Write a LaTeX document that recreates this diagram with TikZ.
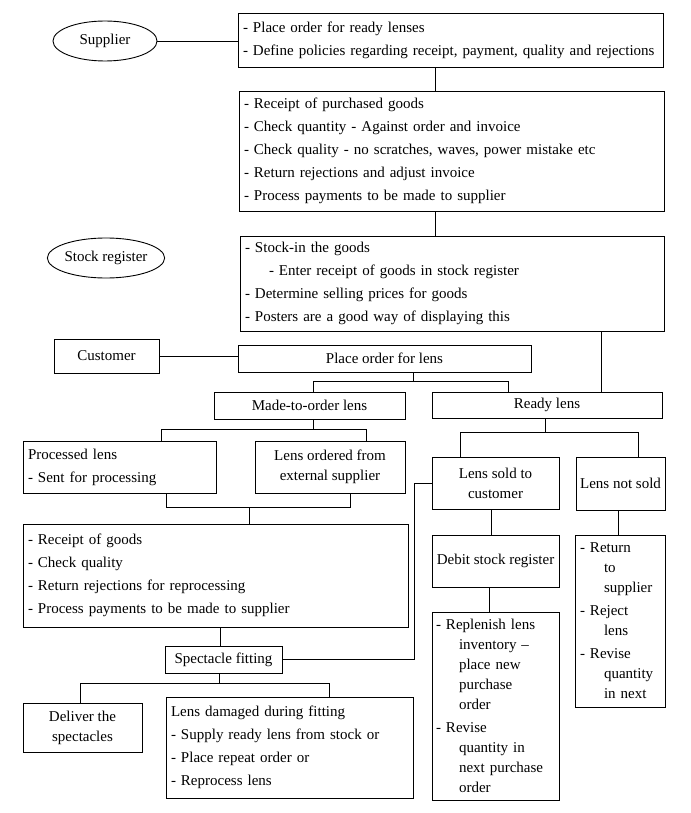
\documentclass[tikz,border=0pt]{standalone}
\usepackage{fontspec}
\setmainfont{Liberation Serif}
\usetikzlibrary{shapes.geometric}
\begin{document}
\begin{tikzpicture}[x=1pt,y=-1pt,
  base/.style={draw, line width=0.9pt, inner sep=0pt, font=\fontsize{15}{23}\selectfont},
  lbox/.style={base, rectangle, align=left, inner xsep=5pt},
  cbox/.style={base, rectangle, align=center},
  tight/.style={font=\fontsize{15}{20}\selectfont},
  oval/.style={base, ellipse},
  conn/.style={line width=0.9pt}]
\fill[white] (0,0) rectangle (690,813);
\path[use as bounding box] (0,0) rectangle (690,813);

% left column labels
\node[oval, minimum width=104pt, minimum height=40pt] (supplier) at (105,41) {Supplier};
\node[oval, minimum width=104pt, minimum height=40pt] (stock) at (106,258) {Stock register};
\node[cbox, minimum width=105pt, minimum height=34pt] (customer) at (106.5,356) {Customer};

% top boxes
\node[lbox, minimum width=425pt, minimum height=54pt, text width=415pt] (box1) at (450.5,40)
 {- Place order for ready lenses\\- Define policies regarding receipt, payment, quality and rejections};
\node[lbox, minimum width=425pt, minimum height=120pt, text width=415pt] (box2) at (451.5,151)
 {- Receipt of purchased goods\\- Check quantity - Against order and invoice\\- Check quality - no scratches, waves, power mistake etc\\- Return rejections and adjust invoice\\- Process payments to be made to supplier};
\node[lbox, minimum width=424pt, minimum height=95pt, text width=414pt] (box3) at (452,283.5)
 {- Stock-in the goods\\\hspace*{24pt}- Enter receipt of goods in stock register\\- Determine selling prices for goods\\- Posters are a good way of displaying this};

\node[cbox, minimum width=293pt, minimum height=27pt] (place) at (384.5,358.5) {Place order for lens};
\node[cbox, minimum width=191pt, minimum height=27pt] (mto) at (309.5,405.5) {Made-to-order lens};
\node[cbox, minimum width=230pt, minimum height=26pt] (ready) at (547,405) {Ready lens};

% made-to-order branch
\node[lbox, minimum width=193pt, minimum height=52pt, text width=183pt] (proc) at (119.5,467)
 {Processed lens\\- Sent for processing};
\node[cbox, tight, minimum width=150pt, minimum height=52pt] (ordered) at (330,467)
 {Lens ordered from\\external supplier};
\node[lbox, minimum width=385pt, minimum height=103pt, text width=375pt] (receipt) at (215.5,575.5)
 {- Receipt of goods\\- Check quality\\- Return rejections for reprocessing\\- Process payments to be made to supplier};
\node[cbox, minimum width=117pt, minimum height=27pt] (fit) at (223.5,659.5) {Spectacle fitting};
\node[cbox, tight, minimum width=119pt, minimum height=49pt] (deliver) at (82.5,727.5)
 {Deliver the\\spectacles};
\node[lbox, minimum width=247pt, minimum height=101pt, text width=237pt] (damaged) at (289.5,747.5)
 {Lens damaged during fitting\\- Supply ready lens from stock or\\- Place repeat order or\\- Reprocess lens};

% ready lens branch
\node[cbox, tight, minimum width=127pt, minimum height=52pt] (sold) at (495.5,483)
 {Lens sold to\\customer};
\node[cbox, minimum width=89pt, minimum height=53pt] (notsold) at (620.5,483.5) {Lens not sold};
\node[cbox, minimum width=127pt, minimum height=52pt] (debit) at (495.5,561) {Debit stock register};
\node[lbox, tight, inner xsep=4pt, minimum width=127pt, minimum height=188pt, text width=119pt] (replenish) at (495.5,706)
 {- Replenish lens\\\hspace*{23pt}inventory –\\\hspace*{23pt}place new\\\hspace*{23pt}purchase\\\hspace*{23pt}order\\[3pt]- Revise\\\hspace*{23pt}quantity in\\\hspace*{23pt}next purchase\\\hspace*{23pt}order};
\node[lbox, tight, minimum width=90pt, minimum height=172pt, text width=80pt] (return) at (620,621)
 {- Return\\\hspace*{24pt}to\\\hspace*{24pt}supplier\\[3pt]- Reject\\\hspace*{24pt}lens\\[3pt]- Revise\\\hspace*{24pt}quantity\\\hspace*{24pt}in next};

% connectors
\draw[conn] (supplier.east) -- (supplier.east -| box1.west);
\draw[conn] (customer.east) -- (customer.east -| place.west);
\coordinate (k1) at (435,0);
\draw[conn] (box1.south -| k1) -- (box2.north -| k1);
\draw[conn] (box2.south -| k1) -- (box3.north -| k1);
\coordinate (k2) at (601,0);
\draw[conn] (box3.south -| k2) -- (ready.north -| k2);

\coordinate (j1) at (413,381);
\coordinate (j1l) at (313,381);
\coordinate (j1r) at (508,381);
\draw[conn] (place.south -| j1) -- (j1);
\draw[conn] (mto.north -| j1l) -- (j1l) -- (j1r) -- (ready.north -| j1r);

\coordinate (j2) at (313,429);
\coordinate (j2l) at (161,429);
\coordinate (j2r) at (366,429);
\draw[conn] (mto.south -| j2) -- (j2);
\draw[conn] (proc.north -| j2l) -- (j2l) -- (j2r) -- (ordered.north -| j2r);

\coordinate (j3) at (249,507);
\coordinate (j3l) at (166,507);
\coordinate (j3r) at (350,507);
\draw[conn] (proc.south -| j3l) -- (j3l) -- (j3r) -- (ordered.south -| j3r);
\draw[conn] (j3) -- (receipt.north -| j3);

\coordinate (k3) at (220,0);
\draw[conn] (receipt.south -| k3) -- (fit.north -| k3);

\coordinate (j4) at (219,683);
\coordinate (j4l) at (80,683);
\coordinate (j4r) at (329,683);
\draw[conn] (fit.south -| j4) -- (j4);
\draw[conn] (deliver.north -| j4l) -- (j4l) -- (j4r) -- (damaged.north -| j4r);

\coordinate (b1) at (414,0);
\draw[conn] (fit.east) -- (fit.east -| b1) -- (sold.west -| b1) -- (sold.west);

\coordinate (j5) at (545,432);
\coordinate (j5l) at (460,432);
\coordinate (j5r) at (638,432);
\draw[conn] (ready.south -| j5) -- (j5);
\draw[conn] (sold.north -| j5l) -- (j5l) -- (j5r) -- (notsold.north -| j5r);

\coordinate (k4) at (491,0);
\draw[conn] (sold.south -| k4) -- (debit.north -| k4);
\coordinate (k5) at (489,0);
\draw[conn] (debit.south -| k5) -- (replenish.north -| k5);
\coordinate (k6) at (618,0);
\draw[conn] (notsold.south -| k6) -- (return.north -| k6);
\end{tikzpicture}
\end{document}
